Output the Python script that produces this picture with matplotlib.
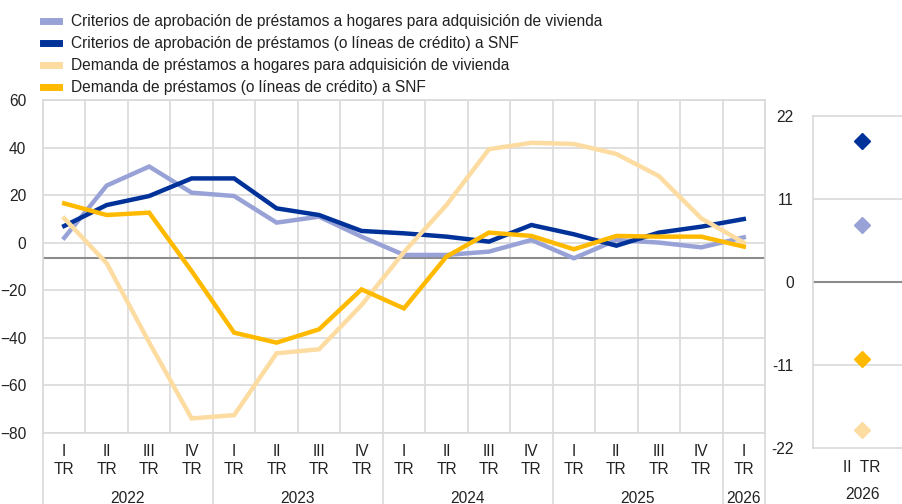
import matplotlib
matplotlib.use("Agg")
import matplotlib.pyplot as plt
import matplotlib.transforms as mtransforms
import numpy as np

plt.rcParams['font.family'] = ['Liberation Sans', 'DejaVu Sans']

# ---------------- data ----------------
quarters = ["I", "II", "III", "IV"] * 4 + ["I"]
years = ["2022", "2023", "2024", "2025", "2026"]
year_counts = [4, 4, 4, 4, 1]

labels = [
    "Criterios de aprobación de préstamos a hogares para adquisición de vivienda",
    "Criterios de aprobación de préstamos (o líneas de crédito) a SNF",
    "Demanda de préstamos a hogares para adquisición de vivienda",
    "Demanda de préstamos (o líneas de crédito) a SNF",
]
colors = ["#98A2D6", "#003299", "#FDDCA2", "#FFBA00"]

crit_hogares = [2, 24, 32, 21, 19.6, 8.4, 10.9, 2.5, -5.2, -5.2, -3.8, 1.1, -6.6, 1.1, 0, -2, 2.2]
crit_snf = [7, 15.8, 19.6, 27, 27, 14.4, 11.6, 4.9, 3.9, 2.5, 0.4, 7.4, 3.5, -1.3, 4.2, 6.7, 9.9]
dem_hogares = [10.2, -8.7, -42, -74, -72.6, -46.6, -44.9, -26.3, -4, 15.8, 39.3, 42, 41.5, 37.3, 28, 10.2, 0]
dem_snf = [16.5, 11.6, 12.6, -12, -37.9, -42.1, -36.5, -19.7, -27.7, -5.9, 4.2, 2.8, -2.8, 2.8, 2.5, 2.5, -1.7]
series = [crit_hogares, crit_snf, dem_hogares, dem_snf]

ref_line = -6.5

# expectations panel (II TR 2026)
exp_label = "II  TR"
exp_year = "2026"
exp_values = [7.6, 18.7, -19.6, -10.2]

# ---------------- figure ----------------
W, H = 902, 504
fig = plt.figure(figsize=(W / 100, H / 100), dpi=100)

grid_c = "#D9D9D9"
txt_c = "#222222"
fs = 11.2

ax = fig.add_axes([43 / W, 1 - 432.7 / H, (765 - 43) / W, (432.7 - 100) / H])
n = len(quarters)
x = np.arange(n)
lines = []
for vals, col, lab in zip(series, colors, labels):
    ln, = ax.plot(x, vals, color=col, lw=3.2, label=lab, solid_joinstyle="miter", zorder=3)
    lines.append(ln)
ax.axhline(ref_line, color="#8C8C8C", lw=1.5, zorder=2)

ax.set_xlim(-0.5, n - 0.5)
ax.set_ylim(-80, 60)
ax.set_yticks(np.arange(-80, 61, 20))
ax.set_xticks(np.arange(-0.5, n, 1), minor=True)
ax.set_xticks(x)
ax.set_xticklabels([f"{q}\nTR" for q in quarters], fontsize=fs, color=txt_c, linespacing=1.3)
ax.tick_params(axis="both", which="both", length=0, labelsize=fs, colors=txt_c)
ax.tick_params(axis="x", pad=8)
ax.tick_params(axis="y", pad=12)
ax.grid(True, axis="y", which="major", color=grid_c, lw=1.2)
ax.grid(True, axis="x", which="minor", color=grid_c, lw=1.2)
ax.grid(False, axis="x", which="major")
ax.set_axisbelow(True)
for s in ax.spines.values():
    s.set_color(grid_c)
    s.set_linewidth(1.2)

# year separators and labels
trans = mtransforms.blended_transform_factory(ax.transData, ax.transAxes)
bounds = np.concatenate([[0], np.cumsum(year_counts)]) - 0.5
for b in bounds:
    ax.plot([b, b], [0, -0.3], transform=trans, color=grid_c, lw=1.2, clip_on=False)
for i, yr in enumerate(years):
    ax.text((bounds[i] + bounds[i + 1]) / 2, -0.197, yr, transform=trans,
            ha="center", va="center", fontsize=fs, color=txt_c)

# ---------------- right panel ----------------
ax2 = fig.add_axes([813 / W, 1 - 448 / H, (911 - 813) / W, (448 - 116) / H])
for v, col in zip(exp_values, colors):
    ax2.plot([0], [v], marker="D", ms=8.5, color=col, lw=0, zorder=3)
ax2.set_xlim(-1, 1)
ax2.set_ylim(-22, 22)
ax2.set_yticks([-22, -11, 0, 11, 22])
ax2.set_yticklabels(["-22", "-11", "0", "11", "22"])
ax2.set_xticks([0])
ax2.set_xticklabels([exp_label])
ax2.tick_params(axis="both", length=0, labelsize=fs, colors=txt_c)
ax2.tick_params(axis="x", pad=9)
ax2.tick_params(axis="y", pad=14)
ax2.axhline(11, color=grid_c, lw=1.2, zorder=1)
ax2.axhline(-11, color=grid_c, lw=1.2, zorder=1)
ax2.axhline(0, color="#8C8C8C", lw=1.5, zorder=2)
for s in ax2.spines.values():
    s.set_color(grid_c)
    s.set_linewidth(1.2)
ax2.text(0, -0.14, exp_year, transform=mtransforms.blended_transform_factory(ax2.transData, ax2.transAxes),
         ha="center", va="center", fontsize=fs, color=txt_c)

# ---------------- legend ----------------
fig.legend(handles=lines, labels=labels, loc="upper left",
           bbox_to_anchor=(43 / W, 1 - 14 / H), frameon=False, fontsize=fs,
           handlelength=1.03, handletextpad=0.8, labelspacing=0.45,
           borderaxespad=0, borderpad=0, labelcolor=txt_c)
for h in fig.legends[0].get_lines():
    h.set_linewidth(5)

fig.savefig("out.png", dpi=100)
